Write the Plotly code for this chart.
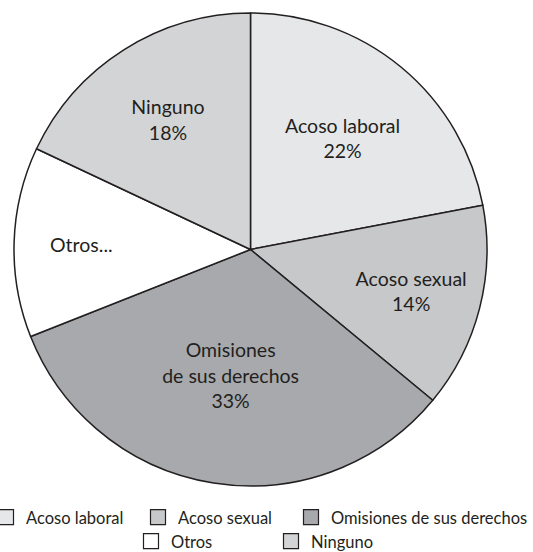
import plotly.graph_objects as go

labels = ["Acoso laboral", "Acoso sexual", "Omisiones de sus derechos", "Otros", "Ninguno"]
slice_text = ["Acoso laboral", "Acoso sexual", "Omisiones<br>de sus derechos", "Otros...", "Ninguno"]
values = [22, 14, 33, 13, 18]
colors = ["#e6e7e8", "#c7c8ca", "#a7a9ac", "#ffffff", "#d3d4d6"]
templates = ["%{text}<br>%{percent:.0%}"] * 3 + ["%{text}"] + ["%{text}<br>%{percent:.0%}"]

W, H = 533, 552
MB = 60                      # bottom margin reserved for the legend
PH = H - MB                  # plot-area height
cx, cy, r = 250.5, 249.5, 236.5
FONT = "Lato"
INK = "#231f20"

fig = go.Figure()
fig.add_trace(go.Pie(
    labels=labels, values=values, text=slice_text, texttemplate=templates,
    sort=False, direction="clockwise", rotation=0,
    marker=dict(colors=colors, line=dict(color=INK, width=1.5)),
    textposition="inside", insidetextorientation="horizontal",
    textfont=dict(family=FONT, size=19.5, color=INK),
    showlegend=False, hoverinfo="label+percent",
    domain=dict(x=[(cx - r) / W, (cx + r) / W], y=[1 - (cy + r) / PH, 1 - (cy - r) / PH]),
))

# legend entries: row 1 split in two legends so the last label is not clipped
legend_of = ["legend", "legend", "legend3", "legend2", "legend2"]
for idx, lab in enumerate(labels):
    fig.add_trace(go.Scatter(x=[None], y=[None], mode="markers", name=lab,
                             marker=dict(symbol="square", size=15, color=colors[idx],
                                         line=dict(color=INK, width=1.2)),
                             legend=legend_of[idx]))

legfont = dict(family=FONT, size=16.5, color=INK)
row1_top, row2_top = 500, 524
common = dict(orientation="h", xanchor="left", yanchor="top", font=legfont,
              itemwidth=30, bgcolor="rgba(0,0,0,0)", tracegroupgap=0)
fig.update_layout(
    width=W, height=H, margin=dict(l=0, r=0, t=0, b=MB, autoexpand=False),
    paper_bgcolor="white", plot_bgcolor="white",
    xaxis=dict(visible=False), yaxis=dict(visible=False),
    uniformtext=dict(minsize=19.5, mode="show"),
    legend=dict(x=-14 / W, y=1 - row1_top / PH, entrywidth=107, entrywidthmode="pixels", **common),
    legend3=dict(x=291 / W, y=1 - row1_top / PH, **common),
    legend2=dict(x=131 / W, y=1 - row2_top / PH, entrywidth=95, entrywidthmode="pixels", **common),
)
fig.write_html("out.html", config={"displayModeBar": False},
               post_script="document.body.style.margin='0px';")
